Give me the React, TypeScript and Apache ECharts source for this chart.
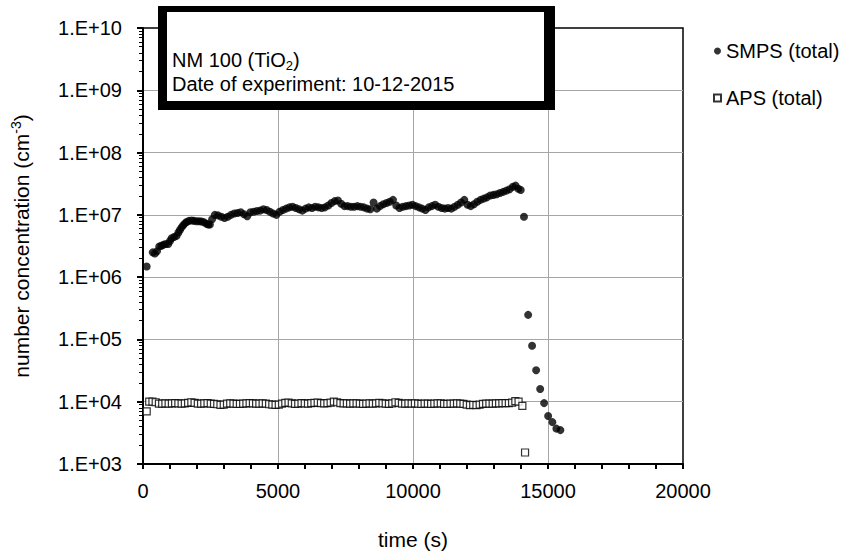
import React, { useEffect, useRef } from "react";
import * as echarts from "echarts";

const smpsData: [number, number][] = [
  [137, 1.48e6], [358, 2.5e6], [440, 2.4e6], [520, 2.6e6], [603, 3.1e6], [680, 3.2e6], [750, 3.3e6],
  [840, 3.4e6], [935, 3.4e6], [1000, 3.8e6], [1060, 4.2e6], [1150, 4.4e6], [1245, 4.6e6], [1310, 5.2e6],
  [1367, 5.7e6], [1430, 6.3e6], [1490, 6.8e6], [1555, 7.3e6], [1615, 7.7e6], [1700, 8.0e6], [1800, 8.1e6],
  [1890, 8.0e6], [1985, 7.9e6], [2080, 7.9e6], [2170, 7.8e6], [2260, 7.6e6], [2354, 7.2e6], [2420, 7.0e6],
  [2476, 7.0e6], [2560, 8.5e6], [2660, 1.0e7], [2780, 9.8e6], [2900, 9.3e6], [3020, 8.9e6], [3140, 9.3e6],
  [3260, 1.0e7], [3380, 1.05e7], [3500, 1.07e7], [3620, 1.1e7], [3740, 1.02e7], [3860, 9.5e6], [3980, 1.1e7],
  [4100, 1.12e7], [4220, 1.15e7], [4340, 1.17e7], [4460, 1.23e7], [4580, 1.2e7], [4700, 1.12e7], [4820, 1.05e7],
  [4940, 1.0e7], [5060, 1.12e7], [5180, 1.2e7], [5300, 1.26e7], [5420, 1.32e7], [5540, 1.35e7], [5660, 1.29e7],
  [5780, 1.23e7], [5900, 1.17e7], [6020, 1.26e7], [6140, 1.32e7], [6260, 1.29e7], [6380, 1.35e7], [6500, 1.32e7],
  [6620, 1.29e7], [6740, 1.32e7], [6860, 1.41e7], [6980, 1.55e7], [7100, 1.66e7], [7220, 1.7e7], [7340, 1.51e7],
  [7460, 1.38e7], [7580, 1.38e7], [7700, 1.35e7], [7820, 1.35e7], [7940, 1.38e7], [8060, 1.35e7], [8180, 1.32e7],
  [8300, 1.26e7], [8420, 1.23e7], [8540, 1.58e7], [8660, 1.26e7], [8780, 1.38e7], [8900, 1.48e7], [9020, 1.55e7],
  [9140, 1.62e7], [9260, 1.74e7], [9380, 1.41e7], [9500, 1.29e7], [9620, 1.35e7], [9740, 1.38e7], [9860, 1.41e7],
  [9980, 1.45e7], [10100, 1.38e7], [10220, 1.32e7], [10340, 1.26e7], [10460, 1.2e7], [10580, 1.32e7], [10700, 1.38e7],
  [10820, 1.45e7], [10940, 1.35e7], [11060, 1.29e7], [11180, 1.26e7], [11300, 1.29e7], [11420, 1.26e7], [11540, 1.35e7],
  [11660, 1.45e7], [11780, 1.58e7], [11900, 1.74e7], [12020, 1.45e7], [12140, 1.38e7], [12260, 1.48e7], [12380, 1.62e7],
  [12500, 1.74e7], [12620, 1.82e7], [12740, 1.91e7], [12860, 2.04e7], [12980, 2.09e7], [13100, 2.14e7], [13220, 2.24e7],
  [13340, 2.34e7], [13460, 2.45e7], [13580, 2.57e7], [13700, 2.82e7], [13800, 2.95e7], [13900, 2.63e7], [13990, 2.51e7],
  [14110, 9.3e6], [14265, 2.48e5], [14410, 7.9e4], [14560, 3.2e4], [14710, 1.6e4], [14855, 9.5e3], [15005, 5.9e3],
  [15163, 4.7e3], [15310, 3.7e3], [15460, 3.5e3],
];

const apsData: [number, number][] = [
  [137, 7.0e3], [230, 1.0e4], [350, 1.0e4], [470, 9.8e3], [590, 9.3e3], [710, 9.3e3], [830, 9.4e3], [950, 9.3e3],
  [1070, 9.4e3], [1190, 9.5e3], [1310, 9.4e3], [1430, 9.3e3], [1550, 9.4e3], [1670, 9.6e3], [1790, 9.8e3], [1910, 9.6e3],
  [2030, 9.3e3], [2150, 9.3e3], [2270, 9.4e3], [2390, 9.5e3], [2510, 9.3e3], [2630, 9.2e3], [2750, 9.1e3], [2870, 8.9e3],
  [2990, 9.0e3], [3110, 9.3e3], [3230, 9.4e3], [3350, 9.3e3], [3470, 9.2e3], [3590, 9.2e3], [3710, 9.3e3], [3830, 9.4e3],
  [3950, 9.5e3], [4070, 9.4e3], [4190, 9.3e3], [4310, 9.3e3], [4430, 9.4e3], [4550, 9.3e3], [4670, 9.1e3], [4790, 9.0e3],
  [4910, 8.9e3], [5030, 9.0e3], [5150, 9.3e3], [5270, 9.6e3], [5390, 9.7e3], [5510, 9.4e3], [5630, 9.2e3], [5750, 9.3e3],
  [5870, 9.5e3], [5990, 9.4e3], [6110, 9.3e3], [6230, 9.5e3], [6350, 9.6e3], [6470, 9.7e3], [6590, 9.5e3], [6710, 9.4e3],
  [6830, 9.5e3], [6950, 9.7e3], [7070, 1.0e4], [7190, 9.8e3], [7310, 9.5e3], [7430, 9.4e3], [7550, 9.4e3], [7670, 9.3e3],
  [7790, 9.4e3], [7910, 9.4e3], [8030, 9.3e3], [8150, 9.2e3], [8270, 9.3e3], [8390, 9.4e3], [8510, 9.3e3], [8630, 9.4e3],
  [8750, 9.6e3], [8870, 9.4e3], [8990, 9.3e3], [9110, 9.2e3], [9230, 9.4e3], [9350, 9.8e3], [9470, 9.6e3], [9590, 9.3e3],
  [9710, 9.3e3], [9830, 9.4e3], [9950, 9.3e3], [10070, 9.4e3], [10190, 9.3e3], [10310, 9.2e3], [10430, 9.3e3], [10550, 9.3e3],
  [10670, 9.2e3], [10790, 9.3e3], [10910, 9.4e3], [11030, 9.4e3], [11150, 9.2e3], [11270, 9.2e3], [11390, 9.3e3], [11510, 9.3e3],
  [11630, 9.4e3], [11750, 9.3e3], [11870, 9.2e3], [11990, 9.0e3], [12110, 8.8e3], [12230, 8.9e3], [12350, 8.8e3], [12470, 9.0e3],
  [12590, 9.2e3], [12710, 9.3e3], [12830, 9.3e3], [12950, 9.3e3], [13070, 9.4e3], [13190, 9.4e3], [13310, 9.5e3], [13430, 9.5e3],
  [13550, 9.5e3], [13670, 9.7e3], [13790, 1.02e4], [13910, 1.0e4], [14050, 8.6e3], [14150, 1.53e3],
];

const seriesNames = ["SMPS (total)", "APS (total)"];
const boxText = "{a|NM 100 (TiO}{sub|2}{a|)}\n{a|Date of experiment: 10-12-2015}";
const xAxisTitle = "time (s)";
const yAxisTitle = "{a|number concentration (cm}{sup|-3}{a|)}";

const FONT = "'Liberation Sans', Arial, sans-serif";
const FS = 20;
const TITLE_FS = 21;

export default function App() {
  const ref = useRef<HTMLDivElement>(null);
  useEffect(() => {
    if (!ref.current) return;
    const chart = echarts.init(ref.current, null, { renderer: "svg" });
    chart.setOption({
      animation: false,
      backgroundColor: "#fff",
      textStyle: { fontFamily: FONT, color: "#000" },
      grid: { left: 143, right: 168, top: 28, bottom: 94, show: true, borderColor: "#000", borderWidth: 1.5 },
      legend: {
        orient: "vertical",
        left: 713,
        top: 41,
        itemGap: 27,
        itemWidth: 7,
        itemHeight: 7,
        padding: 0,
        textStyle: { fontSize: FS, color: "#000", fontFamily: FONT },
        data: [
          { name: seriesNames[0], icon: "circle" },
          { name: seriesNames[1], icon: "rect" },
        ],
      },
      xAxis: {
        type: "value",
        min: 0,
        max: 20000,
        interval: 5000,
        name: xAxisTitle,
        nameLocation: "middle",
        nameGap: 65,
        nameTextStyle: { fontSize: TITLE_FS, color: "#000", fontFamily: FONT },
        axisLine: { show: true, onZero: false, lineStyle: { color: "#000", width: 2 } },
        axisTick: { show: true, length: 5, lineStyle: { color: "#000", width: 2 } },
        minorTick: { show: true, splitNumber: 5, length: 5, lineStyle: { color: "#000", width: 2 } },
        axisLabel: {
          fontSize: FS,
          color: "#000",
          margin: 17,
          fontFamily: FONT,
          formatter: (v: number) => String(v),
        },
        splitLine: { show: true, showMinLine: false, showMaxLine: false, lineStyle: { color: "#a6a6a6", width: 1 } },
      },
      yAxis: {
        type: "log",
        logBase: 10,
        min: 1e3,
        max: 1e10,
        name: yAxisTitle,
        nameLocation: "middle",
        nameRotate: 90,
        nameGap: 110,
        nameTextStyle: {
          fontFamily: FONT,
          rich: {
            a: { fontSize: TITLE_FS, color: "#000", fontFamily: FONT },
            sup: { fontSize: 14, color: "#000", fontFamily: FONT, padding: [0, 0, 10, 0] },
          },
        },
        axisLine: { show: true, onZero: false, lineStyle: { color: "#000", width: 2 } },
        axisTick: { show: true, length: 6, lineStyle: { color: "#000", width: 2 } },
        minorTick: { show: true, splitNumber: 9, length: 4, lineStyle: { color: "#000", width: 1 } },
        axisLabel: {
          fontSize: FS,
          color: "#000",
          margin: 21,
          fontFamily: FONT,
          formatter: (v: number) => {
            const e = Math.round(Math.log10(v));
            return "1.E+" + String(e).padStart(2, "0");
          },
        },
        splitLine: { show: true, showMinLine: false, showMaxLine: false, lineStyle: { color: "#a6a6a6", width: 1 } },
      },
      series: [
        {
          name: seriesNames[0],
          type: "scatter",
          symbol: "circle",
          symbolSize: 8,
          itemStyle: { color: "#000" },
          data: smpsData,
          z: 3,
        },
        {
          name: seriesNames[1],
          type: "scatter",
          symbol: "rect",
          symbolSize: 7,
          itemStyle: { color: "#fff", borderColor: "#000", borderWidth: 1.2 },
          data: apsData,
          z: 4,
        },
      ],
      graphic: [
        { type: "rect", shape: { x: 158, y: 6, width: 397, height: 104 }, style: { fill: "#000" }, z: 10 },
        { type: "rect", shape: { x: 167, y: 12, width: 377, height: 89 }, style: { fill: "#fff" }, z: 11 },
        {
          type: "text",
          x: 172,
          y: 48,
          z: 12,
          style: {
            text: boxText,
            fontFamily: FONT,
            fill: "#000",
            verticalAlign: "top",
            rich: {
              a: { fontSize: FS, lineHeight: 24, fontFamily: FONT, fill: "#000" },
              sub: { fontSize: 13, lineHeight: 14, fontFamily: FONT, fill: "#000", verticalAlign: "bottom" },
            },
          },
        },
      ],
    });
    return () => chart.dispose();
  }, []);
  return <div ref={ref} style={{ position: "fixed", left: 0, top: 0, width: 851, height: 558 }} />;
}
